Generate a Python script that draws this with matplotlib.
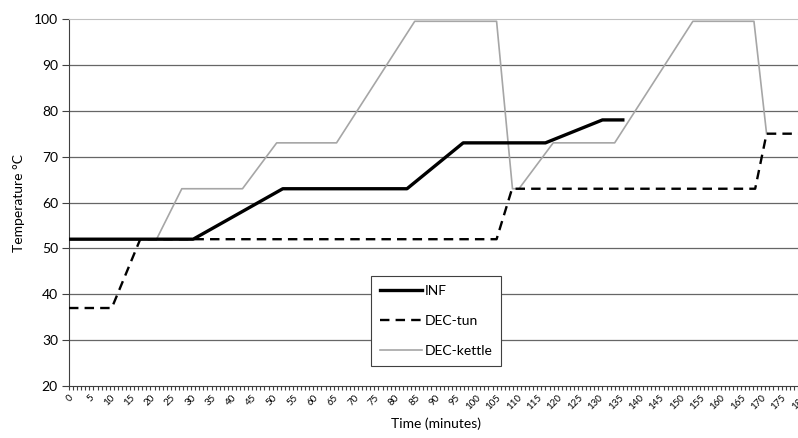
import numpy as np
import matplotlib.pyplot as plt
from matplotlib.ticker import MultipleLocator

plt.rcParams['font.family'] = ['Lato', 'DejaVu Sans']

# values (minutes, deg C)
inf_t = [0, 30.5, 52.5, 83, 96.8, 117, 131, 136]
inf_v = [52, 52, 63, 63, 73, 73, 78, 78]

tun_t = [0, 10.5, 17.5, 105, 108.8, 168.5, 171.3, 180]
tun_v = [37, 37, 52, 52, 63, 63, 75, 75]

kettle_t = [0, 21.5, 27.7, 42.6, 51, 65.7, 84.9, 105, 108.9, 110.5, 118.9, 134, 153.2, 168.2, 171.3]
kettle_v = [52, 52, 63, 63, 73, 73, 99.5, 99.5, 63, 63, 73, 73, 99.5, 99.5, 75]

fig = plt.figure(figsize=(7.98, 4.38), dpi=100)
ax = fig.add_axes([69/798, 52/438, 733/798, 367/438])

ax.plot(kettle_t, kettle_v, color='#a6a6a6', lw=1.2, label='DEC-kettle', zorder=3)
ax.plot(tun_t, tun_v, color='black', lw=1.7, ls=(0, (4, 2.6)), label='DEC-tun', zorder=4)
ax.plot(inf_t, inf_v, color='black', lw=2.4, label='INF', zorder=5)

ax.set_xlim(0, 180)
ax.set_ylim(20, 100)
ax.set_yticks(np.arange(20, 101, 10))
ax.xaxis.set_major_locator(MultipleLocator(5))
ax.xaxis.set_minor_locator(MultipleLocator(1))
ax.tick_params(axis='x', which='both', length=3, width=0.8, color='#404040',
               labelsize=7, labelrotation=45, pad=2)
ax.tick_params(axis='y', length=5, width=0.8, color='#404040', labelsize=10, pad=3)
for lab in ax.get_xticklabels():
    lab.set_ha('right')
    lab.set_rotation_mode('anchor')

for y in range(30, 100, 10):
    ax.axhline(y, color='#666666', lw=0.9, zorder=1)

ax.spines['top'].set_color('#c0c0c0')
ax.spines['right'].set_visible(False)
ax.spines['left'].set_color('#404040')
ax.spines['bottom'].set_color('#404040')

ax.set_xlabel('Time (minutes)', fontsize=10, labelpad=4)
ax.set_ylabel('Temperature °C', fontsize=10, labelpad=6)

handles, labels = ax.get_legend_handles_labels()
order = [2, 1, 0]
leg = ax.legend([handles[i] for i in order], [labels[i] for i in order],
                loc='lower left', bbox_to_anchor=(0.412, 0.054), borderaxespad=0,
                fontsize=10, fancybox=False, edgecolor='#404040', framealpha=1,
                handlelength=3.0, handletextpad=0.2, labelspacing=1.3,
                borderpad=0.65)
leg.get_frame().set_linewidth(0.8)

fig.savefig('out.png', dpi=100)
